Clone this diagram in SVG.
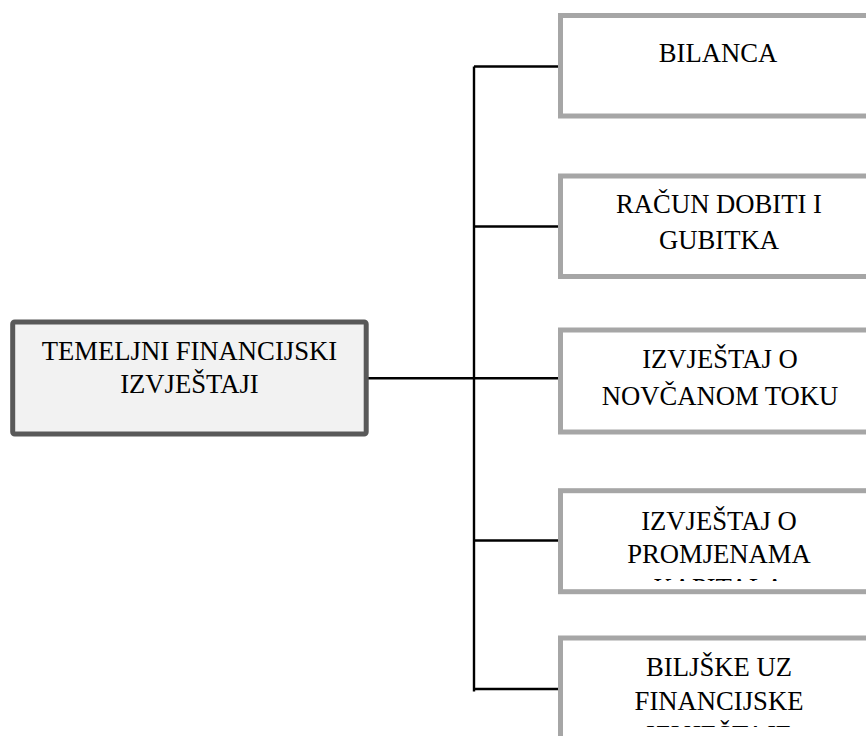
<svg xmlns="http://www.w3.org/2000/svg" width="866" height="736" viewBox="0 0 866 736">
<style>
.node{fill:#ffffff;stroke:#a6a6a6;stroke-width:5}
.root{fill:#f2f2f2;stroke:#595959;stroke-width:5}
.t{font-family:'Liberation Serif','Times New Roman',serif;font-size:26.67px;fill:#000;text-anchor:middle}
.c{stroke:#000;stroke-width:2.4;fill:none}
</style>
<defs>
<clipPath id="clip4"><rect x="560" y="491" width="320" height="90"/></clipPath>
<clipPath id="clip5"><rect x="560" y="638" width="320" height="89"/></clipPath>
</defs>
<rect width="866" height="736" fill="#ffffff"/>
<g id="connectors">
<line class="c" x1="474" y1="66.5" x2="474" y2="691.5"/>
<line class="c" x1="474" y1="66.5" x2="559" y2="66.5"/>
<line class="c" x1="474" y1="226.5" x2="559" y2="226.5"/>
<line class="c" x1="367" y1="378.3" x2="559" y2="378.3"/>
<line class="c" x1="474" y1="540.5" x2="559" y2="540.5"/>
<line class="c" x1="474" y1="689" x2="559" y2="689"/>
</g>
<g id="root">
<rect class="root" x="12.7" y="322" width="353.5" height="112" rx="2"/>
<text class="t" x="189.4" y="360">TEMELJNI FINANCIJSKI</text>
<text class="t" x="189.4" y="393">IZVJEŠTAJI</text>
</g>
<g id="bilanca">
<rect class="node" x="560.5" y="15.5" width="330" height="100.5"/>
<text class="t" x="718" y="62">BILANCA</text>
</g>
<g id="racun">
<rect class="node" x="560.5" y="176" width="330" height="100.5"/>
<text class="t" x="719" y="213">RAČUN DOBITI I</text>
<text class="t" x="719" y="249">GUBITKA</text>
</g>
<g id="novcani-tok">
<rect class="node" x="560.5" y="330" width="330" height="102"/>
<text class="t" x="720" y="368">IZVJEŠTAJ O</text>
<text class="t" x="720" y="405">NOVČANOM TOKU</text>
</g>
<g id="promjene-kapitala">
<rect class="node" x="560.5" y="490.7" width="330" height="101"/>
<g clip-path="url(#clip4)">
<text class="t" x="719" y="530">IZVJEŠTAJ O</text>
<text class="t" x="719" y="563.3">PROMJENAMA</text>
<text class="t" x="719" y="596.8">KAPITALA</text>
</g>
</g>
<g id="biljeske">
<rect class="node" x="560.5" y="638" width="330" height="160"/>
<g clip-path="url(#clip5)">
<text class="t" x="719" y="676">BILJŠKE UZ</text>
<text class="t" x="719" y="710">FINANCIJSKE</text>
<text class="t" x="719" y="743.5">IZVJEŠTAJE</text>
</g>
</g>
</svg>
